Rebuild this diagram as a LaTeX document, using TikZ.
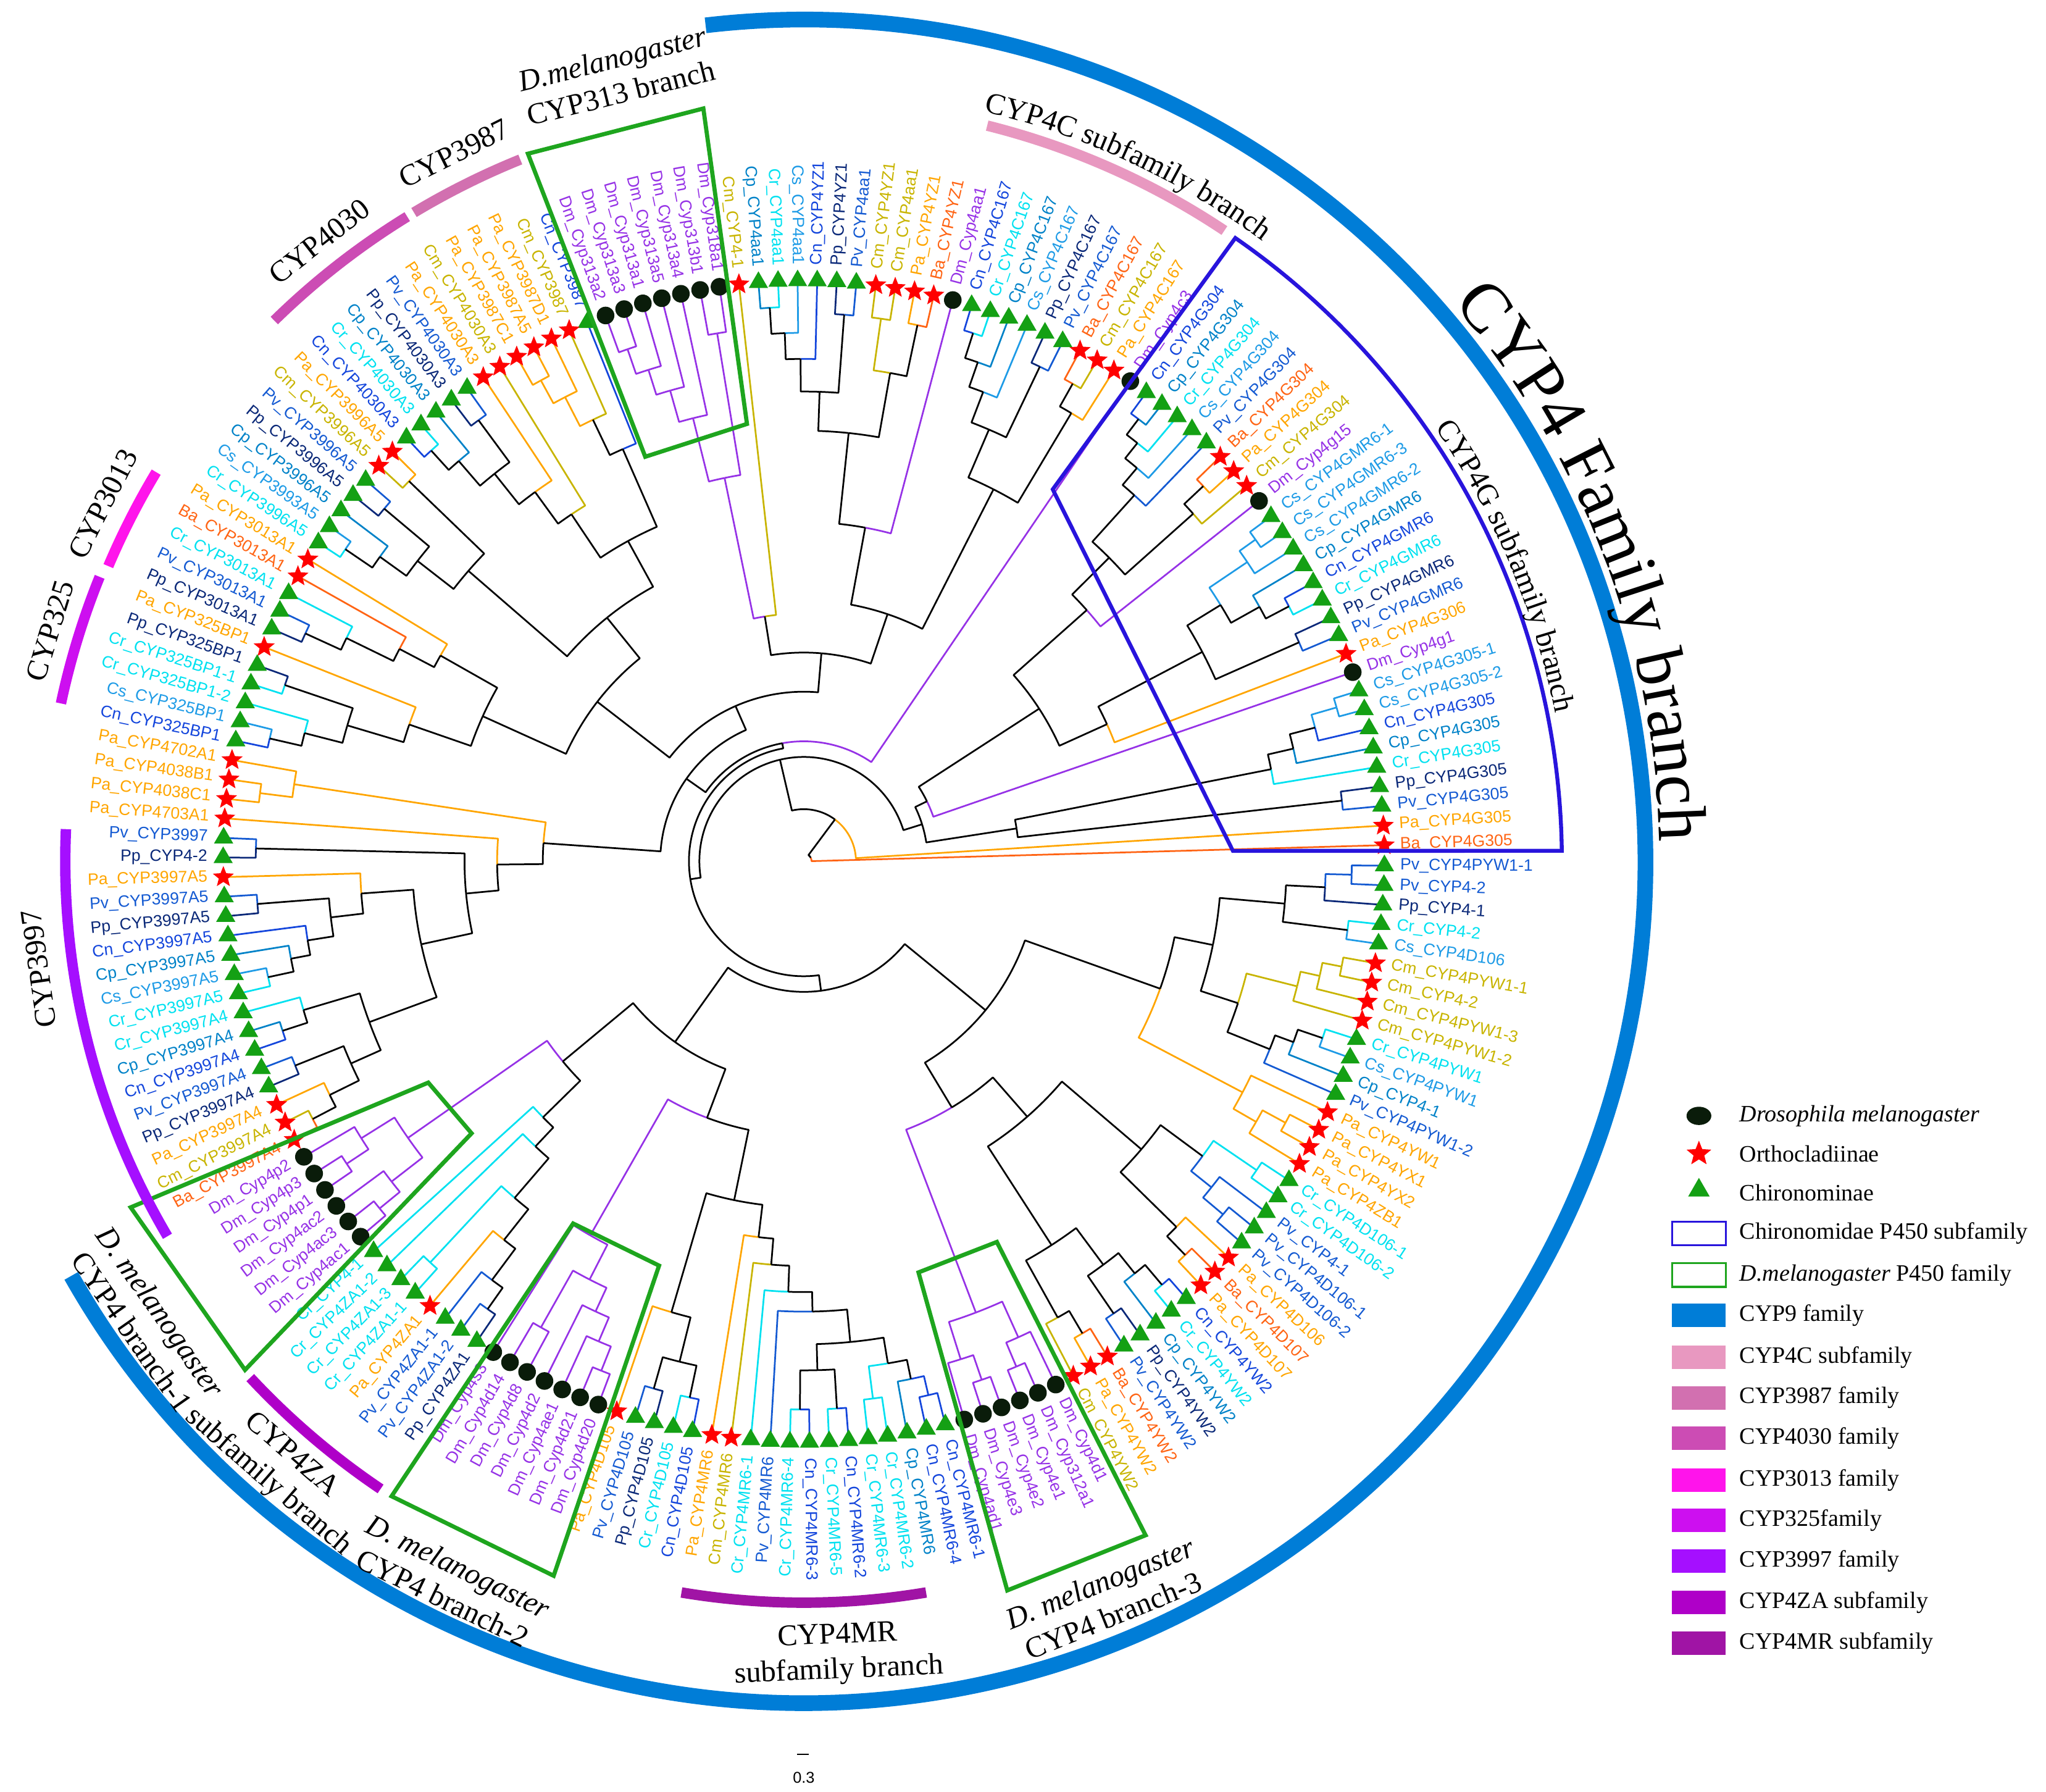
\documentclass[tikz,border=0pt]{standalone}
\usepackage{fontspec}
\setmainfont{Liberation Serif}
\newfontfamily\labfont{Liberation Sans}
\usetikzlibrary{shapes.geometric}
\usetikzlibrary{decorations.text}

\definecolor{cDm}{RGB}{150,50,230}
\definecolor{cPa}{RGB}{255,165,0}
\definecolor{cBa}{RGB}{255,100,20}
\definecolor{cCm}{RGB}{200,180,0}
\definecolor{cCn}{RGB}{20,70,220}
\definecolor{cCp}{RGB}{0,130,200}
\definecolor{cCr}{RGB}{0,225,240}
\definecolor{cCs}{RGB}{30,155,230}
\definecolor{cPv}{RGB}{20,90,210}
\definecolor{cPp}{RGB}{10,40,120}
\definecolor{dotcol}{RGB}{10,28,10}
\definecolor{trigreen}{RGB}{20,160,20}
\definecolor{boxblue}{RGB}{40,20,220}
\definecolor{boxgreen}{RGB}{30,165,30}
\definecolor{cyp9}{RGB}{0,125,215}
\definecolor{cyp4c}{RGB}{232,152,192}
\definecolor{cyp3987}{RGB}{210,112,176}
\definecolor{cyp4030}{RGB}{204,76,180}
\definecolor{cyp3013}{RGB}{255,20,235}
\definecolor{cyp325}{RGB}{205,15,240}
\definecolor{cyp3997}{RGB}{165,15,255}
\definecolor{cyp4za}{RGB}{175,0,200}
\definecolor{cyp4mr}{RGB}{160,20,165}

% tips: index/species/gene, anticlockwise from the root branch
\def\leaflist{1/Ba/CYP4G305, 2/Pa/CYP4G305, 3/Pv/CYP4G305, 4/Pp/CYP4G305,
5/Cr/CYP4G305, 6/Cp/CYP4G305, 7/Cn/CYP4G305, 8/Cs/CYP4G305-2, 9/Cs/CYP4G305-1,
10/Dm/Cyp4g1, 11/Pa/CYP4G306, 12/Pv/CYP4GMR6, 13/Pp/CYP4GMR6, 14/Cr/CYP4GMR6,
15/Cn/CYP4GMR6, 16/Cp/CYP4GMR6, 17/Cs/CYP4GMR6-2, 18/Cs/CYP4GMR6-3, 19/Cs/CYP4GMR6-1,
20/Dm/Cyp4g15, 21/Cm/CYP4G304, 22/Pa/CYP4G304, 23/Ba/CYP4G304, 24/Pv/CYP4G304,
25/Cs/CYP4G304, 26/Cr/CYP4G304, 27/Cp/CYP4G304, 28/Cn/CYP4G304, 29/Dm/Cyp4c3,
30/Pa/CYP4C167, 31/Cm/CYP4C167, 32/Ba/CYP4C167, 33/Pv/CYP4C167, 34/Pp/CYP4C167,
35/Cs/CYP4C167, 36/Cp/CYP4C167, 37/Cr/CYP4C167, 38/Cn/CYP4C167, 39/Dm/Cyp4aa1,
40/Ba/CYP4YZ1, 41/Pa/CYP4YZ1, 42/Cm/CYP4aa1, 43/Cm/CYP4YZ1, 44/Pv/CYP4aa1,
45/Pp/CYP4YZ1, 46/Cn/CYP4YZ1, 47/Cs/CYP4aa1, 48/Cr/CYP4aa1, 49/Cp/CYP4aa1,
50/Cm/CYP4-1, 51/Dm/Cyp318a1, 52/Dm/Cyp313b1, 53/Dm/Cyp313a4, 54/Dm/Cyp313a5,
55/Dm/Cyp313a1, 56/Dm/Cyp313a3, 57/Dm/Cyp313a2, 58/Cn/CYP3987, 59/Cm/CYP3987,
60/Pa/CYP3987D1, 61/Pa/CYP3987A5, 62/Pa/CYP3987C1, 63/Cm/CYP4030A3, 64/Pa/CYP4030A3,
65/Pv/CYP4030A3, 66/Pp/CYP4030A3, 67/Cp/CYP4030A3, 68/Cr/CYP4030A3, 69/Cn/CYP4030A3,
70/Pa/CYP3996A5, 71/Cm/CYP3996A5, 72/Pv/CYP3996A5, 73/Pp/CYP3996A5, 74/Cp/CYP3996A5,
75/Cs/CYP3993A5, 76/Cr/CYP3996A5, 77/Pa/CYP3013A1, 78/Ba/CYP3013A1, 79/Cr/CYP3013A1,
80/Pv/CYP3013A1, 81/Pp/CYP3013A1, 82/Pa/CYP325BP1, 83/Pp/CYP325BP1, 84/Cr/CYP325BP1-1,
85/Cr/CYP325BP1-2, 86/Cs/CYP325BP1, 87/Cn/CYP325BP1, 88/Pa/CYP4702A1, 89/Pa/CYP4038B1,
90/Pa/CYP4038C1, 91/Pa/CYP4703A1, 92/Pv/CYP3997, 93/Pp/CYP4-2, 94/Pa/CYP3997A5,
95/Pv/CYP3997A5, 96/Pp/CYP3997A5, 97/Cn/CYP3997A5, 98/Cp/CYP3997A5, 99/Cs/CYP3997A5,
100/Cr/CYP3997A5, 101/Cr/CYP3997A4, 102/Cp/CYP3997A4, 103/Cn/CYP3997A4, 104/Pv/CYP3997A4,
105/Pp/CYP3997A4, 106/Pa/CYP3997A4, 107/Cm/CYP3997A4, 108/Ba/CYP3997A4, 109/Dm/Cyp4p2,
110/Dm/Cyp4p3, 111/Dm/Cyp4p1, 112/Dm/Cyp4ac2, 113/Dm/Cyp4ac3, 114/Dm/Cyp4ac1,
115/Cr/CYP4-1, 116/Cr/CYP4ZA1-2, 117/Cr/CYP4ZA1-3, 118/Cr/CYP4ZA1-1, 119/Pa/CYP4ZA1,
120/Pv/CYP4ZA1-1, 121/Pv/CYP4ZA1-2, 122/Pp/CYP4ZA1, 123/Dm/Cyp4s3, 124/Dm/Cyp4d14,
125/Dm/Cyp4d8, 126/Dm/Cyp4d2, 127/Dm/Cyp4ae1, 128/Dm/Cyp4d21, 129/Dm/Cyp4d20,
130/Pa/CYP4D105, 131/Pv/CYP4D105, 132/Pp/CYP4D105, 133/Cr/CYP4D105, 134/Cn/CYP4D105,
135/Pa/CYP4MR6, 136/Cm/CYP4MR6, 137/Cr/CYP4MR6-1, 138/Pv/CYP4MR6, 139/Cr/CYP4MR6-4,
140/Cn/CYP4MR6-3, 141/Cr/CYP4MR6-5, 142/Cn/CYP4MR6-2, 143/Cr/CYP4MR6-3, 144/Cr/CYP4MR6-2,
145/Cp/CYP4MR6, 146/Cn/CYP4MR6-4, 147/Cn/CYP4MR6-1, 148/Dm/Cyp4ad1, 149/Dm/Cyp4e3,
150/Dm/Cyp4e2, 151/Dm/Cyp4e1, 152/Dm/Cyp312a1, 153/Dm/Cyp4d1, 154/Cm/CYP4YW2,
155/Pa/CYP4YW2, 156/Ba/CYP4YW2, 157/Pv/CYP4YW2, 158/Pp/CYP4YW2, 159/Cp/CYP4YW2,
160/Cr/CYP4YW2, 161/Cn/CYP4YW2, 162/Pa/CYP4D107, 163/Ba/CYP4D107, 164/Pa/CYP4D106,
165/Pv/CYP4D106-2, 166/Pv/CYP4D106-1, 167/Pv/CYP4-1, 168/Cr/CYP4D106-2, 169/Cr/CYP4D106-1,
170/Pa/CYP4ZB1, 171/Pa/CYP4YX2, 172/Pa/CYP4YX1, 173/Pa/CYP4YW1, 174/Pv/CYP4PYW1-2,
175/Cp/CYP4-1, 176/Cs/CYP4PYW1, 177/Cr/CYP4PYW1, 178/Cm/CYP4PYW1-2, 179/Cm/CYP4PYW1-3,
180/Cm/CYP4-2, 181/Cm/CYP4PYW1-1, 182/Cs/CYP4D106, 183/Cr/CYP4-2, 184/Pp/CYP4-1,
185/Pv/CYP4-2, 186/Pv/CYP4PYW1-1}

% clades: name/child/child/radius
\def\cladelist{a1/L8/L9/425, a2/L7/a1/405, a3/L6/a2/385, a4/L5/a3/365, a5/L3/L4/415, a6/a5/a4/165,
a7/L12/L13/415, a8/L14/L15/420, a9/L16/a8/400, a10/L18/L19/425, a11/L17/a10/410, a12/a11/a9/375,
a13/a7/a12/345, a14/L11/a13/255, a15/L22/L23/420, a16/L21/a15/400, a17/L27/L28/425, a18/L26/a17/410,
a19/L25/a18/395, a20/L24/a19/378, a21/a16/a20/330, a22/L20/a21/290, a23/a14/a22/215, a24/L10/a23/105,
a25/a6/a24/95,
b1/L31/L32/420, b2/L30/b1/400, b3/L33/L34/420, b4/L37/L38/425, b5/L36/b4/405, b6/L35/b5/385,
b7/b3/b6/360, b8/b2/b7/320, b9/L48/L49/425, b10/L47/b9/405, b11/L46/b10/385, b12/L44/L45/420,
b13/b12/b11/360, b14/L42/L43/420, b15/L40/L41/420, b16/b15/b14/380, b17/b16/b13/330, b18/L39/b17/260,
b19/b8/b18/200, b20/L51/L52/410, b21/L56/L57/415, b22/L55/b21/395, b23/L54/b22/375, b24/L53/b23/350,
b25/b20/b24/300, b26/L50/b25/190, b27/L61/L62/420, b28/L60/b27/400, b29/L59/b28/375, b30/L58/b29/345,
b31/L65/L66/420, b32/L68/L69/425, b33/L67/b32/405, b34/b31/b33/380, b35/L64/b34/350, b36/L63/b35/320,
b37/b30/b36/280, b38/L70/L71/420, b39/L72/L73/420, b40/L75/L76/425, b41/L74/b40/400, b42/b39/b41/375,
b43/b38/b42/340, b44/b37/b43/240, b45/L80/L81/420, b46/L79/b45/390, b47/L78/b46/350, b48/L77/b47/320,
b49/L83/L84/420, b50/L86/L87/420, b51/L85/b50/395, b52/b49/b51/365, b53/L82/b52/320, b54/b48/b53/270,
b55/b44/b54/200, b56/L89/L90/420, b57/L88/b56/395, b58/L92/L93/420, b59/L95/L96/420, b60/L99/L100/420,
b61/L98/b60/400, b62/L97/b61/385, b63/b59/b62/365, b64/L94/b63/340, b65/L102/L103/420, b66/L101/b65/400,
b67/L104/L105/420, b68/L107/L108/425, b69/L106/b68/405, b70/b67/b69/380, b71/b66/b70/355, b72/b64/b71/300,
b73/b58/b72/260, b74/L91/b73/235, b75/b57/b74/200, b76/b19/b26/160, b77/b76/b55/130, b78/b77/b75/110,
b79/L29/b78/92,
c1/L110/L111/420, c2/L109/c1/400, c3/L113/L114/420, c4/L112/c3/400, c5/c2/c4/370, c6/L117/L118/420,
c7/L121/L122/420, c8/L120/c7/400, c9/L119/c8/370, c10/c6/c9/340, c11/L116/c10/300, c12/L115/c11/280,
c13/c5/c12/240, c14/L128/L129/420, c15/L127/c14/400, c16/L126/c15/380, c17/L124/L125/410, c18/c17/c16/360,
c19/L123/c18/330, c20/L131/L132/420, c21/L133/L134/420, c22/c20/c21/395, c23/L130/c22/360,
c24/L139/L140/420, c25/L141/L142/420, c26/c24/c25/390, c27/L146/L147/420, c28/L145/c27/405,
c29/L143/L144/415, c30/c29/c28/390, c31/c26/c30/370, c32/L138/c31/345, c33/L137/c32/330, c34/L136/c33/310,
c35/L135/c34/290, c36/c23/c35/265, c37/L149/L150/420, c38/L148/c37/400, c39/L151/L152/420, c40/c39/L153/400,
c41/c38/c40/370, c42/L155/L156/420, c43/L154/c42/400, c44/L157/L158/420, c45/L160/L161/425, c46/L159/c45/405,
c47/c44/c46/385, c48/c43/c47/350, c49/L162/L163/420, c50/c49/L164/400, c51/L165/L166/420, c52/c51/L167/400,
c53/L168/L169/420, c54/c52/c53/380, c55/c50/c54/340, c56/L171/L172/420, c57/L170/c56/400, c58/c57/L173/380,
c59/L185/L186/420, c60/L184/c59/400, c61/L182/L183/420, c62/c61/c60/370, c63/L180/L181/420, c64/L179/c63/405,
c65/L178/c64/390, c66/L176/L177/420, c67/L175/c66/400, c68/L174/c67/385, c69/c68/c65/350, c70/c69/c62/320,
c71/c58/c70/290, c72/c19/c36/210, c73/c13/c72/170, c74/c48/c55/260, c75/c41/c74/220, c76/c75/c71/180,
c77/c73/c76/100,
B/b79/c77/88, N2/a25/B/80, N1/L2/N2/40, R/L1/N1/6}

\newcommand\joinclade[4]{%
	\edef\jA{\csname ang@#2\endcsname}%
	\edef\jB{\csname ang@#3\endcsname}%
	\edef\rA{\csname rad@#2\endcsname}%
	\edef\rB{\csname rad@#3\endcsname}%
	\edef\cA{\csname col@#2\endcsname}%
	\edef\cB{\csname col@#3\endcsname}%
	\pgfmathsetmacro\jM{(\jA+\jB)/2}%
	\expandafter\xdef\csname ang@#1\endcsname{\jM}%
	\expandafter\xdef\csname rad@#1\endcsname{#4}%
	\ifx\cA\cB\expandafter\xdef\csname col@#1\endcsname{\cA}%
	\else\expandafter\xdef\csname col@#1\endcsname{black}\fi
	\draw[branch,\cA] (\jM:#4) arc[start angle=\jM, end angle=\jA, radius=#4] -- (\jA:\rA);
	\draw[branch,\cB] (\jM:#4) arc[start angle=\jM, end angle=\jB, radius=#4] -- (\jB:\rB);
}

\begin{document}
\begin{tikzpicture}[x=1pt,y=1pt]
	%\draw[help lines] (-600,-700) grid[step=50] (950,650);
	
	\tikzstyle{branch} = [line width=1.3pt, line join=round]
	\tikzstyle{leaflab} = [font=\labfont\fontsize{12.6}{14}\selectfont, inner sep=0pt]
	\tikzstyle{mkstar} = [star, star points=5, star point ratio=2.3, fill=red, minimum size=17pt, inner sep=0pt]
	\tikzstyle{mktri} = [regular polygon, regular polygon sides=3, fill=trigreen, minimum size=17pt, inner sep=0pt]
	\tikzstyle{mkDm} = [circle, fill=dotcol, minimum size=13.5pt, inner sep=0pt]
	\tikzstyle{mkPa} = [mkstar]
	\tikzstyle{mkBa} = [mkstar]
	\tikzstyle{mkCm} = [mkstar]
	\tikzstyle{mkCn} = [mktri]
	\tikzstyle{mkCp} = [mktri]
	\tikzstyle{mkCr} = [mktri]
	\tikzstyle{mkCs} = [mktri]
	\tikzstyle{mkPv} = [mktri]
	\tikzstyle{mkPp} = [mktri]
	\tikzstyle{greenbox} = [draw=boxgreen, line width=3.2pt]
	\tikzstyle{famarc} = [line width=8pt]
	\tikzstyle{annot} = [font=\fontsize{23}{27}\selectfont, align=center, inner sep=0pt]
	\tikzstyle{legtext} = [font=\fontsize{18}{21}\selectfont, anchor=west, inner sep=0pt]
	\tikzstyle{legbox} = [minimum width=41pt, minimum height=18pt, inner sep=0pt]
	
	\useasboundingbox (-616,-713) rectangle (952,660);
	
	\foreach \i/\spec/\gene in \leaflist {
		\pgfmathsetmacro\ang{1.6+(\i-1)*1.935}
		\expandafter\xdef\csname ang@L\i\endcsname{\ang}
		\expandafter\xdef\csname rad@L\i\endcsname{445}
		\expandafter\xdef\csname col@L\i\endcsname{c\spec}
	}
	
	\foreach \nn/\na/\nb/\rr in \cladelist {\joinclade{\nn}{\na}{\nb}{\rr}}
	
	\foreach \i/\spec/\gene in \leaflist {
		\pgfmathsetmacro\ang{1.6+(\i-1)*1.935}
		\ifdim\ang pt>90pt\relax
			\ifdim\ang pt<270pt\relax\def\rot{\ang-180}\def\anc{east}\else\def\rot{\ang}\def\anc{west}\fi
		\else\def\rot{\ang}\def\anc{west}\fi
		\node[mk\spec] (m\i) at (\ang:445) {};
		\node[leaflab, text=c\spec, rotate=\rot, anchor=\anc] (t\i) at (\ang:457) {\spec\_\gene};
	}
	
	\draw[draw=boxblue, line width=3pt] (0.8:581) arc[start angle=0.8, end angle=55.3, radius=581]
		-- (56.2:343) -- (1.4:329) -- cycle;
	\draw[greenbox] (97.6:582) -- (111.3:582) -- (111.4:333) -- (97.4:338) -- cycle;
	\draw[greenbox] (207.2:580) -- (210.5:334) -- (219.3:329) -- (222.3:579) -- cycle;
	\draw[greenbox] (237.5:329) -- (250.3:329) -- (250.7:580) -- (237.0:580) -- cycle;
	\draw[greenbox] (285.6:327) -- (296.9:327) -- (296.9:579) -- (285.6:580) -- cycle;
	
	\draw[line width=12pt, cyp9] (96.7:645) arc[start angle=96.7, end angle=-150.5, radius=645];
	\draw[famarc, cyp4c] (56.3:581) arc[start angle=56.3, end angle=76, radius=581];
	\draw[famarc, cyp3987] (112:580) arc[start angle=112, end angle=121, radius=580];
	\draw[famarc, cyp4030] (121.6:580) arc[start angle=121.6, end angle=134.4, radius=580];
	\draw[famarc, cyp3013] (149:579) arc[start angle=149, end angle=157, radius=579];
	\draw[famarc, cyp325] (158:582) arc[start angle=158, end angle=168, radius=582];
	\draw[famarc, cyp3997] (177.5:566) arc[start angle=177.5, end angle=210.5, radius=566];
	\draw[famarc, cyp4za] (223:580) arc[start angle=223, end angle=236, radius=580];
	\draw[famarc, cyp4mr] (260.5:568) arc[start angle=260.5, end angle=279.5, radius=568];
	
	\path[decorate, decoration={text along path, text align=center,
		text={|\fontsize{53}{60}\selectfont|CYP4 Family branch}}]
		(42:656) arc[start angle=42, end angle=0, radius=656];
	\path[decorate, decoration={text along path, text align=center,
		text={|\fontsize{23}{27}\selectfont|CYP4C subfamily branch}}]
		(80:591) arc[start angle=80, end angle=50, radius=591];
	\path[decorate, decoration={text along path, text align=center,
		text={|\fontsize{23}{27}\selectfont|CYP4G subfamily branch}}]
		(37:587) arc[start angle=37, end angle=8.6, radius=587];
	
	\node[annot, rotate=14] (n313) at (103.4:619) {\textit{D.melanogaster}\\CYP313 branch};
	\node[annot, rotate=26.5] (n3987) at (116.3:605) {CYP3987};
	\node[annot, rotate=38] (n4030) at (128:603) {CYP4030};
	\node[annot, rotate=63] (n3013) at (153:603) {CYP3013};
	\node[annot, rotate=73] (n325) at (163:604) {CYP325};
	\node[annot, rotate=98] (n3997) at (188:592) {CYP3997};
	\node[annot, rotate=-55] (nbr1) at (215:615) {\textit{D. melanogaster}\\CYP4 branch-1};
	\node[annot, rotate=-41] (nza) at (229.2:615) {CYP4ZA\\subfamily branch};
	\node[annot, rotate=-26] (nbr2) at (243.9:615) {\textit{D. melanogaster}\\CYP4 branch-2};
	\node[annot, rotate=2.5] (nmr) at (272.5:608) {CYP4MR\\subfamily branch};
	\node[annot, rotate=22] (nbr3) at (292.3:611) {\textit{D. melanogaster}\\CYP4 branch-3};
	
	\draw[line width=1pt] (-5,-684) -- (4,-684);
	\node[font=\labfont\fontsize{12}{14}\selectfont] (scale) at (0,-702) {0.3};
	
	\node[ellipse, fill=dotcol, minimum width=19pt, minimum height=14pt, inner sep=0pt] (k1) at (686,-195) {};
	\node[legtext] (k1t) at (717,-195) {\textit{Drosophila melanogaster}};
	\node[mkstar, minimum size=20pt] (k2) at (686,-224) {};
	\node[legtext] (k2t) at (717,-224) {Orthocladiinae};
	\node[mktri, minimum size=19pt] (k3) at (686,-252) {};
	\node[legtext] (k3t) at (717,-254) {Chironominae};
	\node[legbox, draw=boxblue, line width=1.5pt] (k4) at (686,-285) {};
	\node[legtext] (k4t) at (717,-285) {Chironomidae P450 subfamily};
	\node[legbox, draw=boxgreen, line width=1.5pt] (k5) at (686,-317) {};
	\node[legtext] (k5t) at (717,-317) {\textit{D.melanogaster} P450 family};
	\foreach \y/\c/\t [count=\k from 6] in {-348/cyp9/CYP9 family, -380/cyp4c/CYP4C subfamily,
		-411/cyp3987/CYP3987 family, -442/cyp4030/CYP4030 family, -474/cyp3013/CYP3013 family,
		-505/cyp325/CYP325family, -536/cyp3997/CYP3997 family, -568/cyp4za/CYP4ZA subfamily,
		-599/cyp4mr/CYP4MR subfamily}
	{
		\node[legbox, fill=\c] (k\k) at (686,\y) {};
		\node[legtext] (k\k t) at (717,\y) {\t};
	}

\end{tikzpicture}
\end{document}
